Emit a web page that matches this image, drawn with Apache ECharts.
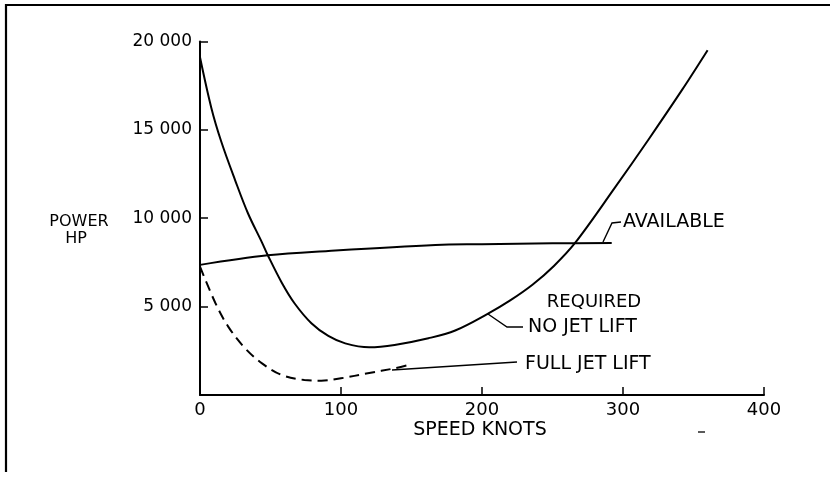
<!DOCTYPE html>
<html>
<head>
<meta charset="utf-8">
<script src="https://cdn.jsdelivr.net/npm/echarts@6/dist/echarts.min.js"></script>
<style>
html,body{margin:0;padding:0;background:#fff;}
#chart{width:830px;height:477px;}
</style>
</head>
<body>
<div id="chart"></div>
<script>
// Data (speed in knots, power in HP)
var noJetLift = [[0,19100],[8,16250],[15,14350],[25,12130],[34,10280],[44,8620],[48,7920],[58,6350],[67,5190],[79,4060],[91,3340],[103,2920],[120,2700],[138,2830],[162,3210],[181,3650],[204,4590],[220,5350],[236,6250],[251,7300],[266,8600],[294,11700],[318,14440],[342,17270],[360,19500]];
var available = [[0,7360],[48,7900],[91,8150],[167,8490],[200,8530],[250,8580],[292,8600]];
var fullJetLift = [[0,7260],[11,5190],[20,3870],[32,2640],[44,1790],[58,1130],[74,850],[86,810],[100,945],[119,1230],[138,1510],[148,1700]];
var xTicks = [0,100,200,300,400];
var xTickLabels = ['0','100','200','300','400'];
var yTicks = [0,5000,10000,15000,20000];
var yTickLabels = ['','5 000','10 000','15 000','20 000'];

var FONT = 'DejaVu Sans';
var chart = echarts.init(document.getElementById('chart'), null, {renderer:'canvas'});
var option = {
  backgroundColor:'#fff',
  animation:false,
  grid:{left:200,right:66,top:41.4,bottom:82,containLabel:false,outerBoundsMode:'none'},
  xAxis:{
    type:'value',min:0,max:400,interval:100,
    axisLine:{onZero:false,lineStyle:{color:'#000',width:2}},
    axisTick:{inside:true,length:8,lineStyle:{color:'#000',width:1.5}},
    splitLine:{show:false},
    axisLabel:{color:'#000',fontFamily:FONT,fontSize:18,margin:6,
      formatter:function(v){var i=xTicks.indexOf(v);return i>=0?xTickLabels[i]:'';}}
  },
  yAxis:{
    type:'value',min:0,max:20000,interval:5000,
    axisLine:{show:true,lineStyle:{color:'#000',width:2}},
    axisTick:{show:true,inside:true,length:8,lineStyle:{color:'#000',width:1.5}},
    splitLine:{show:false},
    axisLabel:{color:'#000',fontFamily:FONT,fontSize:17,margin:8,
      formatter:function(v){var i=yTicks.indexOf(v);return i>=0?yTickLabels[i]:'';}}
  },
  series:[
    {name:'No jet lift',type:'line',data:noJetLift,smooth:0.35,symbol:'none',
      lineStyle:{color:'#000',width:2}},
    {name:'Available',type:'line',data:available,smooth:0.35,symbol:'none',
      lineStyle:{color:'#000',width:2}},
    {name:'Full jet lift',type:'line',data:fullJetLift,smooth:0.35,symbol:'none',
      lineStyle:{color:'#000',width:2,type:[10,6]}}
  ],
  graphic:[
    // frame
    {type:'polyline',shape:{points:[[6,472],[6,5],[830,5]]},style:{stroke:'#000',lineWidth:2.2,fill:null}},
    // leaders
    {type:'polyline',shape:{points:[[603,242],[612,223],[621,222]]},style:{stroke:'#000',lineWidth:1.4,fill:null}},
    {type:'polyline',shape:{points:[[488,314],[507,327],[523,327]]},style:{stroke:'#000',lineWidth:1.4,fill:null}},
    {type:'line',shape:{x1:392,y1:370,x2:517,y2:362},style:{stroke:'#000',lineWidth:1.4}},
    {type:'line',shape:{x1:698,y1:432,x2:705,y2:432},style:{stroke:'#000',lineWidth:1.3}},
    // texts
    {type:'text',x:623,y:222.5,style:{text:'AVAILABLE',font:'19px "DejaVu Sans"',fill:'#000',align:'left',verticalAlign:'middle'}},
    {type:'text',x:594,y:302,style:{text:'REQUIRED',font:'18px "DejaVu Sans"',fill:'#000',align:'center',verticalAlign:'middle'}},
    {type:'text',x:528,y:327.5,style:{text:'NO JET LIFT',font:'19px "DejaVu Sans"',fill:'#000',align:'left',verticalAlign:'middle'}},
    {type:'text',x:525,y:364,style:{text:'FULL JET LIFT',font:'19px "DejaVu Sans"',fill:'#000',align:'left',verticalAlign:'middle'}},
    {type:'text',x:79,y:222,style:{text:'POWER',font:'16px "DejaVu Sans"',fill:'#000',align:'center',verticalAlign:'middle'}},
    {type:'text',x:76,y:239,style:{text:'HP',font:'16px "DejaVu Sans"',fill:'#000',align:'center',verticalAlign:'middle'}},
    {type:'text',x:480,y:430,style:{text:'SPEED KNOTS',font:'19px "DejaVu Sans"',fill:'#000',align:'center',verticalAlign:'middle'}}
  ]
};
chart.setOption(option);
</script>
</body>
</html>
